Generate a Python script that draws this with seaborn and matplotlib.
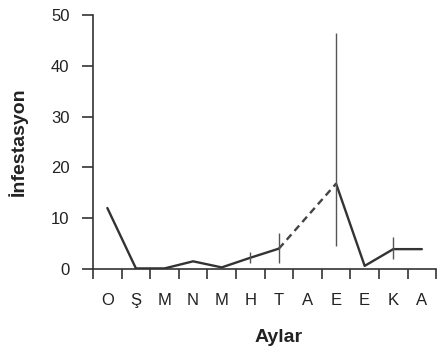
import numpy as np
import pandas as pd
import matplotlib
matplotlib.use("Agg")
import matplotlib.pyplot as plt
import seaborn as sns

# Monthly infestation values (A = August is missing, bridged by a dashed line)
months = ["O", "Ş", "M", "N", "M", "H", "T", "A", "E", "E", "K", "A"]
values = [12.0, 0.1, 0.1, 1.5, 0.3, 2.2, 4.0, np.nan, 16.8, 0.6, 3.9, 3.9]
err_low = [0, 0, 0, 0, 0, 1.1, 2.9, 0, 12.2, 0, 1.9, 0]
err_high = [0, 0, 0, 0, 0, 1.1, 3.0, 0, 29.6, 0, 2.3, 0]
yticks = [0, 10, 20, 30, 40, 50]

sns.set_style("ticks")
plt.rcParams['font.family'] = ['Liberation Sans', 'DejaVu Sans']

df = pd.DataFrame({"x": np.arange(len(months)), "y": values,
                   "lo": err_low, "hi": err_high})

fig = plt.figure(figsize=(4.41, 3.52), dpi=100)
ax = fig.add_axes([0.211, 0.236, 0.778, 0.721])

line_col = "#333333"
# solid parts
sns.lineplot(data=df.iloc[0:7], x="x", y="y", ax=ax, color=line_col, lw=1.7)
sns.lineplot(data=df.iloc[8:12], x="x", y="y", ax=ax, color=line_col, lw=1.7)
# dashed bridge over the missing month
bridge = df.iloc[[6, 8]]
sns.lineplot(data=bridge, x="x", y="y", ax=ax, color="#444444", lw=1.7,
             linestyle=(0, (3, 2)))

# error bars
eb = df[(df.lo > 0) | (df.hi > 0)]
ax.errorbar(eb.x, eb.y, yerr=[eb.lo, eb.hi], fmt="none", ecolor="#555555",
            elinewidth=1.0, capsize=0)

ax.set_xlim(-0.42, 11.5)
ax.set_ylim(0, 50)
ax.set_yticks(yticks)
ax.set_xticks(np.arange(-0.5, 12.0, 1.0))
ax.set_xticklabels([])
ax.set_xticks(np.arange(len(months)), minor=True)
ax.set_xticklabels(months, minor=True)
ax.tick_params(axis="x", which="minor", length=0, pad=17, labelsize=12,
               labelcolor="#222222")
ax.tick_params(axis="x", which="major", length=7, width=1.2, color="#333333")
ax.tick_params(axis="y", length=8, width=1.2, pad=9, labelsize=12,
               color="#333333", labelcolor="#222222")

for s in ["top", "right"]:
    ax.spines[s].set_visible(False)
for s in ["left", "bottom"]:
    ax.spines[s].set_color("#333333")
    ax.spines[s].set_linewidth(1.2)

ax.set_xlabel("Aylar", fontsize=14, fontweight="bold", color="#222222")
ax.xaxis.set_label_coords(0.54, -0.235)
ax.set_ylabel("İnfestasyon", fontsize=14, fontweight="bold", color="#222222")
ax.yaxis.set_label_coords(-0.19, 0.5)

fig.savefig("out.png", dpi=100)
